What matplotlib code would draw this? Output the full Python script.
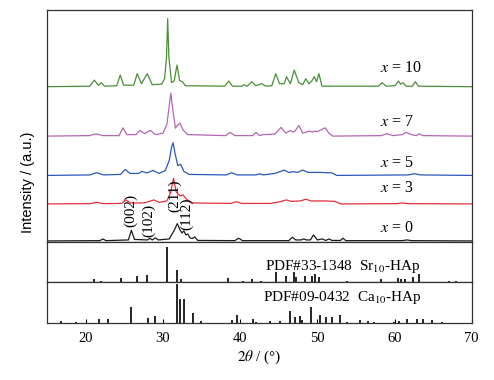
import numpy as np
import matplotlib
matplotlib.use("Agg")
import matplotlib.pyplot as plt

plt.rcParams['font.family'] = ['Liberation Serif', 'DejaVu Serif']
plt.rcParams['mathtext.fontset'] = 'stix'

####### Data #######
# XRD patterns, 2theta in degrees, intensity in a.u. (above each baseline)
tt10 = [15.0, 20.5, 21.1, 21.6, 22.0, 22.4, 24.0, 24.45, 24.9, 26.2, 26.65, 27.2, 27.95, 28.6, 29.8,
        30.2, 30.45, 30.6, 30.75, 31.1, 31.45, 31.8, 32.15, 32.5, 32.9, 38.0, 38.5, 39.0, 40.2, 40.5,
        40.9, 41.5, 42.0, 42.8, 43.3, 44.1, 44.6, 45.1, 45.7, 46.0, 46.5, 47.0, 47.6, 48.1, 48.5,
        48.9, 49.3, 49.6, 49.9, 50.2, 50.6, 57.9, 58.4, 58.9, 60.1, 60.5, 60.8, 61.1, 61.5, 62.3,
        62.7, 63.1, 70.0]
ii10 = [0, 0.5, 6.6, 1.5, 4, 0.5, 1, 11.6, 1.5, 1.5, 13, 3, 13, 2, 2.5,
        8, 30, 68, 30, 4, 6, 21.6, 6, 5, 1, 0.5, 5.6, 0.5, 0.5, 2,
        0.5, 5, 1, 3, 0.5, 1, 13, 3, 3, 10, 3, 16.6, 4, 2, 8,
        3, 6, 10, 5, 13, 0.5, 0.5, 4, 0.5, 1, 5.6, 2.5, 4, 0.5, 0.5,
        5, 0.5, 0]

tt7 = [15.0, 20.5, 21.3, 22.2, 24.3, 24.8, 25.3, 26.5, 27.0, 27.6, 28.35, 29.0, 30.0, 30.5, 30.8,
       31.0, 31.2, 31.6, 31.9, 32.2, 32.6, 33.2, 38.1, 38.7, 39.3, 41.6, 42.05, 42.5, 43.0, 44.5,
       45.3, 45.9, 46.5, 46.8, 47.1, 47.6, 48.1, 49.0, 49.4, 49.6, 50.0, 51.0, 51.5, 52.0, 58.3,
       59.0, 59.8, 61.0, 61.5, 62.2, 62.8, 63.2, 63.7, 70.0]
ii7 = [0, 0.5, 2.3, 0.5, 0.5, 8.3, 1.5, 1.5, 5.7, 2.5, 5.7, 1.5, 3, 12, 30,
       43, 30, 8, 11, 13, 6, 1.5, 0.5, 3.7, 0.5, 0.5, 3.7, 0.5, 1.5, 2,
       8.7, 3, 5.7, 4, 5, 10.7, 3, 5, 4, 5, 4.5, 8.3, 3, 0, 0.5,
       2.5, 0.5, 1.5, 3.7, 1.5, 0.5, 2.3, 0.5, 0]

tt5 = [15.0, 20.5, 21.4, 22.3, 24.5, 25.1, 25.7, 26.8, 27.3, 27.9, 28.7, 29.5, 30.3, 30.8, 31.1,
       31.3, 31.5, 31.9, 32.3, 32.7, 33.4, 38.2, 38.9, 39.6, 42.0, 42.5, 43.0, 44.5, 45.7, 46.3,
       46.9, 47.4, 48.1, 48.8, 50.5, 51.9, 52.5, 61.8, 62.6, 63.4, 70.0]
ii5 = [0, 0.5, 2.7, 0.5, 1, 6, 2, 2, 4, 2.5, 5, 2, 5, 15, 28,
       32.7, 24, 10, 11, 4, 1, 0.5, 2.7, 0.5, 0.5, 1.5, 0.5, 2, 5.3, 3,
       3.7, 3, 5.3, 3, 3, 2.5, 0, 0.5, 1.7, 0.5, 0]

tt3 = [15.0, 20.6, 21.4, 22.2, 24.6, 25.2, 25.8, 27.5, 28.2, 28.8, 29.5, 30.5, 31.0, 31.35, 31.7,
       32.2, 32.6, 33.0, 33.6, 38.8, 39.5, 40.2, 44.0, 45.3, 46.0, 46.6, 47.8, 48.5, 49.2, 51.0,
       52.3, 53.0, 60.3, 61.0, 61.7, 70.0]
ii3 = [0, 0.3, 1.7, 0.3, 0.5, 4, 1, 1, 2.5, 4, 1.5, 3, 12, 25.7, 12,
       8, 9, 5, 1, 0.5, 2.3, 0.5, 0.5, 2.5, 4, 2.5, 3, 4.7, 3, 3,
       2.5, 0, 0.3, 1, 0.3, 0]

tt0 = [15.0, 21.8, 22.2, 22.6, 25.5, 25.9, 26.3, 28.0, 28.3, 28.6, 29.0, 29.4, 30.8, 31.4, 31.85,
       32.2, 32.45, 32.7, 32.95, 33.2, 33.5, 33.8, 34.1, 34.5, 39.3, 39.8, 40.3, 46.3, 46.75, 47.2,
       47.9, 48.2, 48.6, 49.1, 49.5, 50.0, 50.6, 51.1, 51.5, 51.9, 53.0, 53.3, 53.7, 61.0, 61.6,
       62.2, 70.0]
ii0 = [0, 0.3, 2, 0.3, 1, 10.6, 1.5, 1, 2.7, 1, 3, 1, 2, 10, 17.3,
       11, 8, 10, 6, 7, 3, 2.5, 4, 0.5, 0.3, 2.7, 0.3, 0.3, 3.7, 1,
       1, 2, 1, 1, 6, 1, 2, 0.5, 2, 0.5, 0.5, 2.7, 0.3, 0.3, 1,
       0.3, 0]

sample_labels = [r"$x$ = 0", r"$x$ = 3", r"$x$ = 5", r"$x$ = 7", r"$x$ = 10"]
offsets = [1.5, 38.5, 67.0, 106.3, 155.7]
label_y = [14.5, 54.5, 79.5, 120.5, 174.8]
colors = ["#1a1a1a", "#e8303a", "#2a58b8", "#b466b4", "#4a9038"]

# reference cards (relative intensity, %)
sr_pos = [21.0, 22.0, 24.5, 26.6, 27.9, 30.5, 31.8, 32.3, 38.4, 40.3, 41.5, 42.7, 44.6, 45.9,
          46.97, 47.2, 48.4, 49.3, 49.7, 50.2, 53.9, 58.3, 60.5, 60.9, 61.4, 62.4, 63.2, 67.0, 68.0]
sr_int = [9, 4, 11, 16, 21, 100, 35, 7, 11, 4, 9, 4, 28, 18,
          28, 13, 18, 18, 23, 15, 2, 7, 12, 9, 7, 13, 23, 2, 2]

ca_pos = [16.8, 18.7, 21.7, 22.9, 25.8, 28.0, 28.9, 31.75, 32.2, 32.7, 33.85, 34.9, 39.0, 39.6,
          41.7, 42.1, 43.8, 45.2, 46.5, 47.1, 47.75, 48.0, 49.2, 50.35, 51.1, 51.85, 52.9, 53.9,
          55.5, 56.5, 57.3, 59.9, 60.6, 61.6, 62.9, 63.7, 64.8, 66.1]
ca_int = [7, 4, 11, 11, 41, 13, 19, 100, 62, 62, 25, 7, 8, 21,
          11, 4, 6, 7, 30, 15, 19, 8, 40, 21, 15, 17, 21, 4,
          8, 6, 4, 4, 6, 10, 12, 11, 8, 4]

hkl_labels = ["(002)", "(102)", "(211)", "(112)"]
hkl_x = [25.75, 28.1, 31.55, 33.07]
hkl_y = [31.5, 21.5, 46.5, 28.5]

####### Plot #######
fig = plt.figure(figsize=(4.94, 3.8), dpi=100)
ax = fig.add_axes([0.0958, 0.362, 0.859, 0.612])
ax_sr = fig.add_axes([0.0958, 0.258, 0.859, 0.104])
ax_ca = fig.add_axes([0.0958, 0.149, 0.859, 0.109])

patterns = [(tt0, ii0), (tt3, ii3), (tt5, ii5), (tt7, ii7), (tt10, ii10)]
for counter1 in range(len(patterns)):
    tt, ii = patterns[counter1]
    ax.plot(tt, np.array(ii) + offsets[counter1], color=colors[counter1], lw=0.9)
    ax.text(58.1, label_y[counter1], sample_labels[counter1], fontsize=11.5, va='center', ha='left')

for lab, x, y in zip(hkl_labels, hkl_x, hkl_y):
    ax.text(x, y, lab, rotation=90, fontsize=11, ha='center', va='center')

ax.set_ylim(0, 232.5)

ax_sr.vlines(sr_pos, 0, sr_int, color='black', lw=1.2)
ax_sr.set_ylim(0, 112)
ax_sr.text(43.2, 0.40, "PDF#33-1348  Sr$_{10}$-HAp", transform=ax_sr.get_xaxis_transform(),
           fontsize=11, va='center')

ax_ca.vlines(ca_pos, 0, ca_int, color='black', lw=1.2)
ax_ca.set_ylim(0, 104)
ax_ca.text(42.95, 0.62, "PDF#09-0432  Ca$_{10}$-HAp", transform=ax_ca.get_xaxis_transform(),
           fontsize=11, va='center')

for a in [ax, ax_sr, ax_ca]:
    a.set_xlim(15, 70)
    a.set_yticks([])
    for s in a.spines.values():
        s.set_color('#333333')
        s.set_linewidth(0.9)
    if a is not ax_ca:
        a.set_xticks([])

ax_ca.set_xticks(np.arange(20, 71, 10))
ax_ca.tick_params(axis='x', direction='in', length=3, pad=6, labelsize=10.5)
ax_ca.set_xlabel(r"$2\theta$ / (°)", fontsize=11, labelpad=3)

fig.text(28 / 494, 1 - 182 / 380, "Intensity / (a.u.)", rotation=90, ha='center', va='center',
         fontsize=10.5, family='Liberation Sans')

fig.savefig("out.png", dpi=100)
